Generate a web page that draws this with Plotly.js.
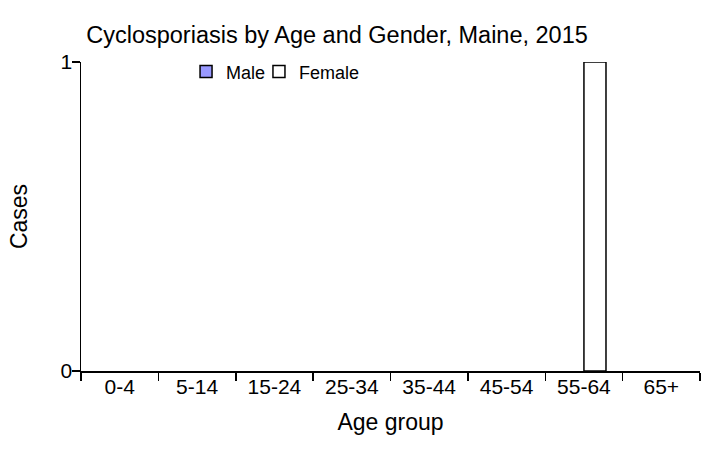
<!DOCTYPE html>
<html>
<head>
<meta charset="utf-8">
<script src="https://cdn.plot.ly/plotly-3.0.1.min.js"></script>
<style>html,body{margin:0;padding:0;background:#fff;}#chart{width:708px;height:464px;}</style>
</head>
<body>
<div id="chart"></div>
<script>
const categories = ["0-4","5-14","15-24","25-34","35-44","45-54","55-64","65+"];
const maleCases = [0,0,0,0,0,0,0,0];
const femaleCases = [0,0,0,0,0,0,1,0];
const yTicks = [0,1];

const font = {family: "Liberation Sans, Arial, sans-serif", color: "#000"};
// zero-count bars have no visible mark in the reference
const shown = vals => vals.map(v => v > 0 ? v : null);

const data = [
  {type: "bar", name: "Male", x: categories, y: shown(maleCases), legend: "legend",
   marker: {color: "#9999FF", line: {color: "#000", width: 1.5}}},
  {type: "bar", name: "Female", x: categories, y: shown(femaleCases), legend: "legend2",
   marker: {color: "#FFFFFF", line: {color: "#000", width: 1.5}}}
];

const legendStyle = x => ({orientation: "h", x: x, xanchor: "left", y: 0.968, yanchor: "middle",
  font: Object.assign({size: 18}, font), bgcolor: "rgba(0,0,0,0)", itemwidth: 30});

const layout = {
  width: 708, height: 464,
  paper_bgcolor: "#fff", plot_bgcolor: "#fff",
  font: Object.assign({size: 21}, font),
  margin: {l: 81, r: 8, t: 62, b: 93},
  title: {text: "Cyclosporiasis by Age and Gender, Maine, 2015",
          font: Object.assign({size: 23.5}, font),
          x: 0.476, xanchor: "center", y: 0.925, yanchor: "middle"},
  barmode: "group", bargap: 0.43, bargroupgap: 0,
  showlegend: true,
  legend: legendStyle(0.1697),
  legend2: legendStyle(0.2875),
  xaxis: {type: "category", range: [-0.5, 7.5], tickson: "boundaries",
          ticks: "outside", ticklen: 8, tickwidth: 1.5, tickcolor: "#000",
          showline: true, linecolor: "#000", linewidth: 1.5,
          showgrid: false, zeroline: false, fixedrange: true,
          ticklabelstandoff: -4,
          tickfont: Object.assign({size: 21}, font),
          title: {text: "Age group", font: Object.assign({size: 23}, font), standoff: 17}},
  yaxis: {range: [0, 1], tickvals: yTicks, ticktext: yTicks.map(String),
          ticks: "outside", ticklen: 8, tickwidth: 1.5, tickcolor: "#000",
          showline: true, linecolor: "#000", linewidth: 1.5,
          showgrid: false, zeroline: false, fixedrange: true,
          ticklabelstandoff: -5,
          tickfont: Object.assign({size: 21}, font),
          title: {text: "Cases", font: Object.assign({size: 23}, font), standoff: 26}}
};

Plotly.newPlot("chart", data, layout, {displayModeBar: false, staticPlot: true});
</script>
</body>
</html>
